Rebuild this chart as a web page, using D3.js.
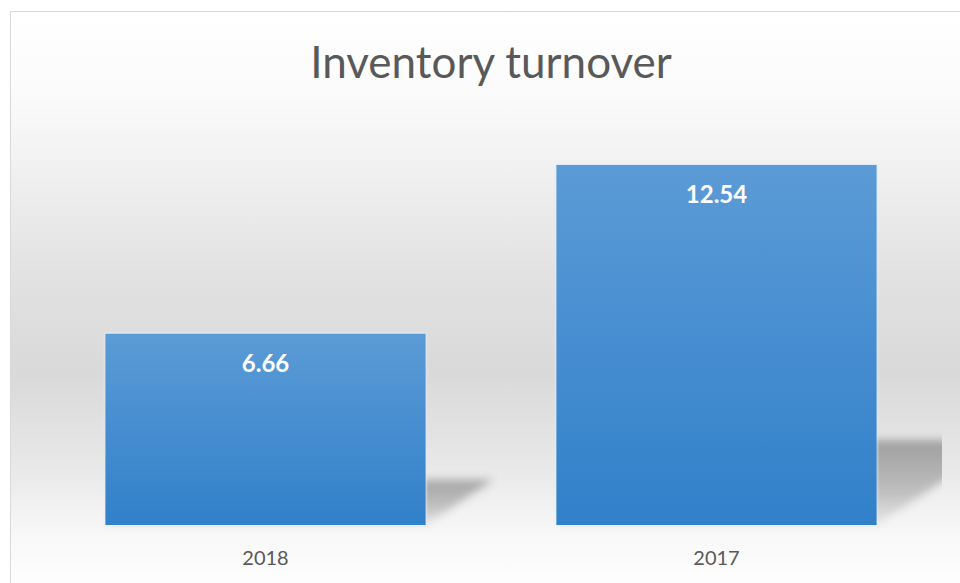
<!DOCTYPE html>
<html>
<head>
<meta charset="utf-8">
<script src="https://cdn.jsdelivr.net/npm/d3@7"></script>
<style>
  html, body { margin: 0; padding: 0; background: #ffffff; }
  svg { display: block; }
</style>
</head>
<body>
<svg id="chart" width="960" height="583"></svg>
<script>
// Chart data
const categories = ["2018", "2017"];
const values = [6.66, 12.54];
const chartTitle = "Inventory turnover";

const W = 960, H = 583;
const svg = d3.select("#chart");
const defs = svg.append("defs");

// Chart-area background: vertical white → grey → white wash
const bg = defs.append("linearGradient")
  .attr("id", "bgGrad").attr("x1", 0).attr("y1", 0).attr("x2", 0).attr("y2", 1);
[[0, "#ffffff"], [0.14, "#fbfbfb"], [0.45, "#e2e2e2"], [0.62, "#d9d9d9"],
 [0.78, "#e8e8e8"], [0.9, "#f8f8f8"], [1, "#ffffff"]]
  .forEach(([o, c]) => bg.append("stop").attr("offset", o).attr("stop-color", c));

// Bar fill: lighter blue at top, deeper blue at bottom
const barGrad = defs.append("linearGradient")
  .attr("id", "barGrad").attr("x1", 0).attr("y1", 0).attr("x2", 0).attr("y2", 1);
barGrad.append("stop").attr("offset", 0).attr("stop-color", "#5b9bd6");
barGrad.append("stop").attr("offset", 1).attr("stop-color", "#3180ca");

// Cast shadow: darker at the far edge, fading towards the base
const shGrad = defs.append("linearGradient")
  .attr("id", "shGrad").attr("x1", 0).attr("y1", 0).attr("x2", 0).attr("y2", 1);
shGrad.append("stop").attr("offset", 0).attr("stop-color", "#000").attr("stop-opacity", 0.3);
shGrad.append("stop").attr("offset", 0.6).attr("stop-color", "#000").attr("stop-opacity", 0.2);
shGrad.append("stop").attr("offset", 1).attr("stop-color", "#000").attr("stop-opacity", 0.05);

defs.append("filter").attr("id", "shBlur")
  .attr("x", "-20%").attr("y", "-20%").attr("width", "140%").attr("height", "140%")
  .append("feGaussianBlur").attr("stdDeviation", 4);

defs.append("filter").attr("id", "glow")
  .attr("x", "-5%").attr("y", "-5%").attr("width", "110%").attr("height", "110%")
  .append("feGaussianBlur").attr("stdDeviation", 1.2);

// Plot area bounds
const plotLeft = 40, plotRight = 942;
defs.append("clipPath").attr("id", "plotClip")
  .append("rect").attr("x", plotLeft).attr("y", 0)
  .attr("width", plotRight - plotLeft).attr("height", H);

// Chart area with border
svg.append("rect")
  .attr("x", 10.5).attr("y", 11.5).attr("width", W + 10).attr("height", H)
  .attr("fill", "url(#bgGrad)")
  .attr("stroke", "#d9d9d9").attr("stroke-width", 1);

// Scales
const x = d3.scaleBand()
  .domain(categories)
  .range([plotLeft, plotRight])
  .paddingInner(0.29)
  .paddingOuter(0.145);

const y = d3.scaleLinear()
  .domain([0, 14])
  .range([525, 123]);

const data = categories.map((c, i) => ({ cat: c, value: values[i] }));

// Perspective shadows cast up and to the right of each bar
const shadowRatio = 0.236, skew = 1.5;
svg.append("g").attr("clip-path", "url(#plotClip)")
  .selectAll("path").data(data).join("path")
  .attr("d", d => {
    const x0 = x(d.cat), x1 = x0 + x.bandwidth();
    const base = y(0);
    const h = (y(0) - y(d.value)) * shadowRatio;
    const dx = h * skew;
    return `M${x0},${base}L${x1},${base}L${x1 + dx},${base - h}L${x0 + dx},${base - h}Z`;
  })
  .attr("fill", "url(#shGrad)")
  .attr("filter", "url(#shBlur)");

// Soft light halo around bars
svg.append("g").selectAll("rect").data(data).join("rect")
  .attr("x", d => x(d.cat) - 1)
  .attr("y", d => y(d.value) - 1)
  .attr("width", x.bandwidth() + 2)
  .attr("height", d => y(0) - y(d.value) + 2)
  .attr("fill", "#e4edf8")
  .attr("opacity", 0.8)
  .attr("filter", "url(#glow)");

// Bars
svg.append("g").selectAll("rect").data(data).join("rect")
  .attr("x", d => x(d.cat))
  .attr("y", d => y(d.value))
  .attr("width", x.bandwidth())
  .attr("height", d => y(0) - y(d.value))
  .attr("fill", "url(#barGrad)");

// Value labels inside the bar tops
svg.append("g").selectAll("text").data(data).join("text")
  .attr("x", d => x(d.cat) + x.bandwidth() / 2)
  .attr("y", d => y(d.value) + 38)
  .attr("text-anchor", "middle")
  .attr("font-family", "Lato, 'Open Sans', sans-serif")
  .attr("font-weight", "bold")
  .attr("font-size", 24)
  .attr("fill", "#ffffff")
  .text(d => d.value.toFixed(2));

// Category axis labels
const xAxis = d3.axisBottom(x).tickSize(0).tickPadding(0);
const axisG = svg.append("g")
  .attr("transform", `translate(0, ${y(0)})`)
  .call(xAxis);
axisG.select(".domain").remove();
axisG.selectAll("text")
  .attr("y", 40)
  .attr("dy", null)
  .attr("font-family", "Lato, 'Open Sans', sans-serif")
  .attr("font-size", 20)
  .attr("fill", "#595959");

// Title
svg.append("text")
  .attr("x", 491)
  .attr("y", 78)
  .attr("text-anchor", "middle")
  .attr("font-family", "Lato, 'Open Sans', sans-serif")
  .attr("font-size", 44)
  .attr("fill", "#595959")
  .text(chartTitle);
</script>
</body>
</html>
